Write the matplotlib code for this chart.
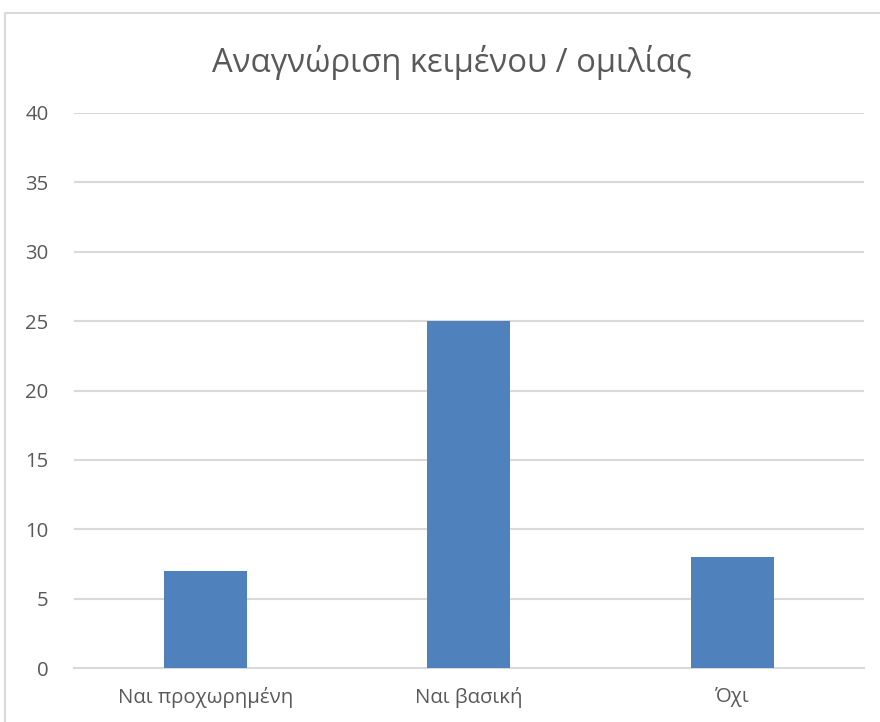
import matplotlib
matplotlib.use("Agg")
import matplotlib.pyplot as plt
from matplotlib.patches import Rectangle

plt.rcParams['font.family'] = ['Open Sans', 'DejaVu Sans']

title = "Αναγνώριση κειμένου / ομιλίας"
categories = ["Ναι προχωρημένη", "Ναι βασική", "Όχι"]
values = [7, 25, 8]
y_ticks = [0, 5, 10, 15, 20, 25, 30, 35, 40]

W, H = 880, 722
fig = plt.figure(figsize=(W / 100, H / 100), dpi=100)
fig.patch.set_facecolor("white")

# chart-area border (extends past the right and bottom edges)
fig.add_artist(Rectangle((5 / W, -0.05), 1.0, (H - 13) / H + 0.05,
                         transform=fig.transFigure, fill=False,
                         edgecolor="#D9D9D9", linewidth=1.5))

ax = fig.add_axes([73.75 / W, (H - 668) / H, 790 / W, 555 / H])
x = range(len(categories))
ax.bar(x, values, width=0.315, color="#4F81BD", zorder=3)

ax.set_xlim(-0.5, len(categories) - 0.5)
ax.set_ylim(0, 40)
ax.set_yticks(y_ticks)
ax.set_xticks(list(x))
ax.set_xticklabels(categories)
ax.grid(axis="y", color="#D9D9D9", linewidth=1.5, zorder=0)
for side in ["top", "right", "left"]:
    ax.spines[side].set_visible(False)
ax.spines["bottom"].set_color("#D9D9D9")
ax.spines["bottom"].set_linewidth(1.5)
ax.tick_params(axis="both", length=0, colors="#595959", labelsize=14.7)
ax.tick_params(axis="y", pad=18)
ax.tick_params(axis="x", pad=14)

fig.text(452 / W, (H - 62) / H, title, ha="center", va="center",
         fontsize=23.6, color="#595959")

fig.savefig("out.png", dpi=100)
